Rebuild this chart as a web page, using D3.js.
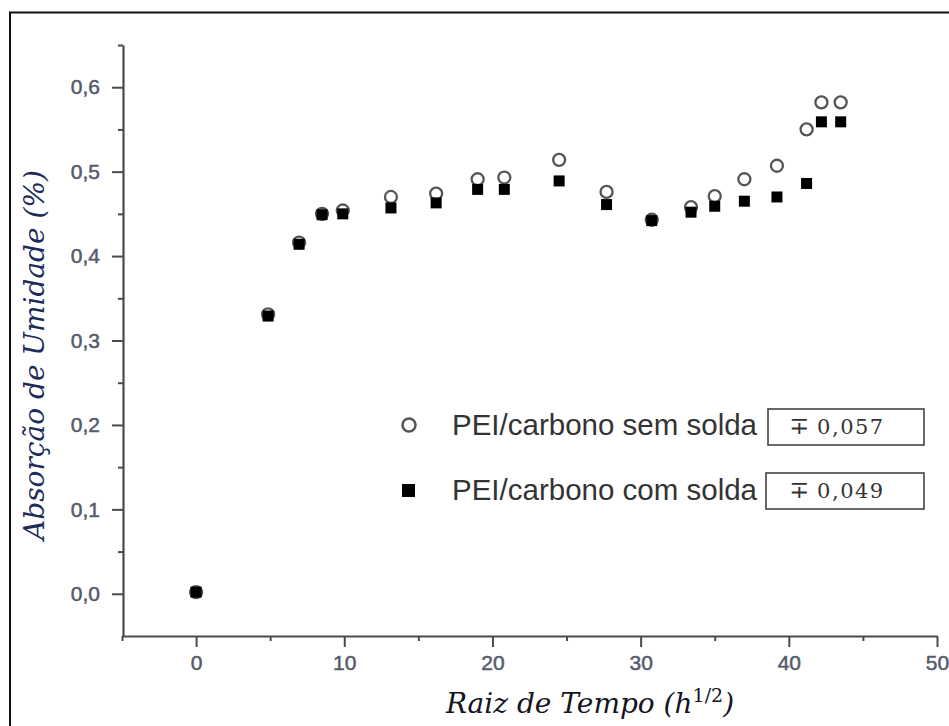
<!DOCTYPE html>
<html>
<head>
<meta charset="utf-8">
<script src="https://cdn.jsdelivr.net/npm/d3@7"></script>
<style>
  body { margin: 0; background: #fff; }
  svg { display: block; }
</style>
</head>
<body>
<div id="chart"></div>
<script>
// Raiz de tempo (h^1/2)
const tempo = [0, 4.86, 6.95, 8.5, 9.9, 13.15, 16.2, 19.0, 20.8, 24.5, 27.7, 30.75, 33.4, 35.0, 37.0, 39.2, 41.2, 42.2, 43.5];
// absorcao de umidade (%) - PEI/carbono sem solda
const semSolda = [0.002, 0.331, 0.416, 0.450, 0.454, 0.470, 0.474, 0.491, 0.493, 0.514, 0.476, 0.443, 0.458, 0.471, 0.491, 0.507, 0.550, 0.582, 0.582];
// absorcao de umidade (%) - PEI/carbono com solda
const comSolda = [0.002, 0.329, 0.414, 0.449, 0.450, 0.457, 0.463, 0.479, 0.479, 0.489, 0.461, 0.442, 0.452, 0.459, 0.465, 0.470, 0.486, 0.559, 0.559];

const seriesNames = ["PEI/carbono sem solda", "PEI/carbono com solda"];
const desvios = ["0,057", "0,049"];

const xTicks = [0, 10, 20, 30, 40, 50];
const xMinor = [-5, 5, 15, 25, 35, 45];
const yTicks = [0.0, 0.1, 0.2, 0.3, 0.4, 0.5, 0.6];
const yMinor = [0.05, 0.15, 0.25, 0.35, 0.45, 0.55, 0.65];

const W = 949, H = 726;
const svg = d3.select("#chart").append("svg")
    .attr("width", W)
    .attr("height", H);

// outer frame (only top and left are visible in the picture)
svg.append("path")
    .attr("d", `M10,${H + 10} L10,12.5 L${W + 10},12.5`)
    .attr("fill", "none")
    .attr("stroke", "#111")
    .attr("stroke-width", 2);

const x = d3.scaleLinear().domain([-5, 50]).range([122, 937]);
const y = d3.scaleLinear().domain([-0.05, 0.65]).range([636, 45]);

const axisColor = "#4a4a4a";
const tickColor = "#565a6c";

// minor ticks
svg.append("g")
    .attr("transform", "translate(0,636)")
    .call(d3.axisBottom(x).tickValues(xMinor).tickSize(5).tickSizeOuter(0).tickFormat(""))
    .call(g => g.select(".domain").remove());
svg.append("g")
    .attr("transform", "translate(123,0)")
    .call(d3.axisLeft(y).tickValues(yMinor).tickSize(5).tickSizeOuter(0).tickFormat(""))
    .call(g => g.select(".domain").remove());

// X axis
const gx = svg.append("g")
    .attr("transform", "translate(0,636)")
    .call(d3.axisBottom(x).tickValues(xTicks).tickSize(11).tickSizeOuter(0).tickPadding(8).tickFormat(d3.format("d")));

// Y axis
const gy = svg.append("g")
    .attr("transform", "translate(123,0)")
    .call(d3.axisLeft(y).tickValues(yTicks).tickSize(11).tickSizeOuter(0).tickPadding(12)
        .tickFormat(d => d3.format(".1f")(d).replace(".", ",")));

svg.selectAll(".tick line").attr("stroke", axisColor).attr("stroke-width", 2);
[gx, gy].forEach(g => {
    g.select(".domain").attr("stroke", axisColor).attr("stroke-width", 2.2);
    g.selectAll(".tick text")
        .attr("fill", tickColor)
        .attr("stroke", tickColor)
        .attr("stroke-width", 0.5)
        .style("font-family", "'Liberation Sans', Arial, sans-serif")
        .style("font-size", "21px");
});

// points: open circles first, filled squares on top
svg.selectAll("circle.sem")
    .data(tempo.map((t, i) => [t, semSolda[i]]))
    .enter()
    .append("circle")
    .attr("class", "sem")
    .attr("cx", d => x(d[0]))
    .attr("cy", d => y(d[1]))
    .attr("r", 6)
    .attr("fill", "#fff")
    .attr("stroke", "#555")
    .attr("stroke-width", 2.3);

const sq = 11;
svg.selectAll("rect.com")
    .data(tempo.map((t, i) => [t, comSolda[i]]))
    .enter()
    .append("rect")
    .attr("class", "com")
    .attr("x", d => x(d[0]) - sq / 2)
    .attr("y", d => y(d[1]) - sq / 2)
    .attr("width", sq)
    .attr("height", sq)
    .attr("fill", "#000");

// legend
const legend = svg.append("g");
legend.append("circle")
    .attr("cx", 409).attr("cy", 425).attr("r", 6.5)
    .attr("fill", "#fff").attr("stroke", "#555").attr("stroke-width", 2.5);
legend.append("rect")
    .attr("x", 402).attr("y", 484).attr("width", 13).attr("height", 13)
    .attr("fill", "#000");

[435, 500].forEach((by, i) => {
    legend.append("text")
        .attr("x", 452).attr("y", by)
        .attr("fill", "#333")
        .style("font-family", "'Liberation Sans', Arial, sans-serif")
        .style("font-size", "29.5px")
        .text(seriesNames[i]);
});

const boxes = [[768, 409], [766, 473]];
boxes.forEach((b, i) => {
    legend.append("rect")
        .attr("x", b[0]).attr("y", b[1])
        .attr("width", 924 - b[0]).attr("height", 36)
        .attr("fill", "#fff")
        .attr("stroke", "#444")
        .attr("stroke-width", 1.6);
    const t = legend.append("text")
        .attr("x", 789).attr("y", b[1] + 25)
        .attr("fill", "#333")
        .style("font-family", "'DejaVu Serif', serif");
    t.append("tspan").style("font-size", "24px").text("∓");
    t.append("tspan").attr("dx", 8).style("font-size", "21px").style("letter-spacing", "1.5px").text(desvios[i]);
});

// axis titles
svg.append("text")
    .attr("transform", "translate(44,355) rotate(-90)")
    .attr("text-anchor", "middle")
    .attr("fill", "#1c2b5a")
    .style("font-family", "'DejaVu Serif', serif")
    .style("font-style", "italic")
    .style("font-size", "28px")
    .text("Absorção de Umidade (%)");

const xl = svg.append("text")
    .attr("x", 590).attr("y", 713)
    .attr("text-anchor", "middle")
    .attr("fill", "#15151f")
    .style("font-family", "'DejaVu Serif', serif")
    .style("font-style", "italic")
    .style("font-size", "28px");
xl.append("tspan").text("Raiz de Tempo (h");
xl.append("tspan").attr("dy", -11).style("font-size", "19px").style("font-style", "normal").text("1/2");
xl.append("tspan").attr("dy", 11).text(")");
</script>
</body>
</html>
